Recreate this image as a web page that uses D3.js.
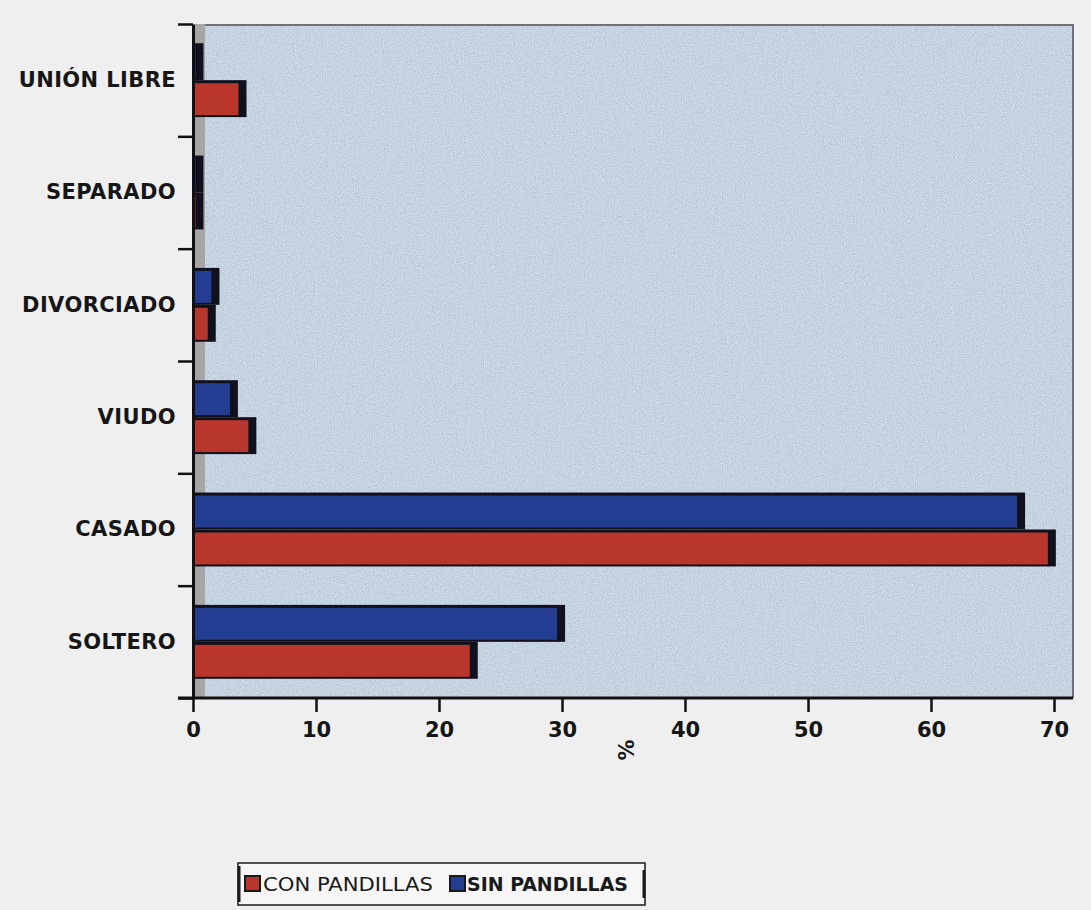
<!DOCTYPE html>
<html>
<head>
<meta charset="utf-8">
<script src="https://cdn.jsdelivr.net/npm/d3@7/dist/d3.min.js"></script>
<style>
  html, body { margin: 0; padding: 0; background: #efefef; }
  svg { display: block; }
</style>
</head>
<body>
<svg id="chart" width="1091" height="910"></svg>
<script>
// ---- data ----
const categories = ["SOLTERO", "CASADO", "VIUDO", "DIVORCIADO", "SEPARADO", "UNIÓN LIBRE"];
const seriesNames = ["CON PANDILLAS", "SIN PANDILLAS"];
const conPandillas = [22.5, 69.5, 4.5, 1.2, 0.2, 3.7];
const sinPandillas = [29.6, 67.0, 3.0, 1.5, 0.2, 0.2];
const xTicks = [0, 10, 20, 30, 40, 50, 60, 70];
const axisTitle = "%";

// ---- layout / style ----
const colors = { "CON PANDILLAS": "#b8362b", "SIN PANDILLAS": "#223d92" };
const dark = "#10111c";
const plot = { left: 193, right: 1073, top: 24, bottom: 698 };

const svg = d3.select("#chart");
const defs = svg.append("defs");
const f = defs.append("filter").attr("id", "grain")
  .attr("x", 0).attr("y", 0).attr("width", "100%").attr("height", "100%");
f.append("feTurbulence").attr("type", "fractalNoise").attr("baseFrequency", 0.9)
  .attr("numOctaves", 3).attr("seed", 7).attr("result", "n");
f.append("feColorMatrix").attr("in", "n").attr("type", "matrix")
  .attr("values", "0.33 0.33 0.33 0 0  0.33 0.33 0.33 0 0  0.33 0.33 0.33 0 0  0 0 0 0 1")
  .attr("result", "g");
f.append("feComposite").attr("in", "SourceGraphic").attr("in2", "g")
  .attr("operator", "arithmetic")
  .attr("k1", 0).attr("k2", 1).attr("k3", 0.7).attr("k4", -0.35);

const x = d3.scaleLinear().domain([0, 70]).range([193, 1054]);
const y = d3.scaleBand().domain(categories.slice().reverse()).range([plot.top, plot.bottom]).padding(0);
const yLin = d3.scaleLinear().domain([0, categories.length]).range([plot.bottom, plot.top]);
const sub = d3.scaleBand().domain(["SIN PANDILLAS", "CON PANDILLAS"])
  .range([0, y.bandwidth()]).paddingInner(0).paddingOuter(0.52);

// plot background
svg.append("rect").attr("x", 205).attr("y", plot.top)
  .attr("width", plot.right - 205).attr("height", plot.bottom - plot.top)
  .attr("fill", "#c6d3e1").attr("filter", "url(#grain)");
// plot border (top / right)
svg.append("path")
  .attr("d", `M205,${plot.top + 1}H${plot.right}V${plot.bottom}`)
  .attr("fill", "none").attr("stroke", "#6e7278").attr("stroke-width", 2);
// side wall
svg.append("rect").attr("x", 194).attr("y", plot.top)
  .attr("width", 11).attr("height", plot.bottom - plot.top)
  .attr("fill", "#a6a6a6");

// bars
const rows = categories.map((c, i) => ({
  cat: c,
  vals: [
    { s: "SIN PANDILLAS", v: sinPandillas[i] },
    { s: "CON PANDILLAS", v: conPandillas[i] }
  ]
}));
const g = svg.append("g");
const grp = g.selectAll("g.cat").data(rows).join("g")
  .attr("transform", d => `translate(0,${y(d.cat)})`);
const bar = grp.selectAll("g.bar").data(d => d.vals).join("g").attr("class", "bar");
bar.append("rect")
  .attr("x", x(0))
  .attr("y", d => sub(d.s))
  .attr("width", d => x(d.v) - x(0) + 8)
  .attr("height", sub.bandwidth())
  .attr("fill", dark);
bar.append("rect")
  .attr("x", x(0) + 2)
  .attr("y", d => sub(d.s) + 3)
  .attr("width", d => Math.max(0, x(d.v) - x(0) - 2))
  .attr("height", sub.bandwidth() - 5)
  .attr("fill", d => colors[d.s]);

// y axis: tick marks at band boundaries + labels
const yTicksG = svg.append("g").attr("transform", `translate(${plot.left},0)`)
  .call(d3.axisLeft(yLin).ticks(categories.length).tickFormat("").tickSize(15).tickSizeOuter(0));
yTicksG.select(".domain").attr("stroke", "#111").attr("stroke-width", 3);
yTicksG.selectAll(".tick line").attr("stroke", "#111").attr("stroke-width", 2.5);

const yLab = svg.append("g").attr("transform", `translate(176,0)`)
  .call(d3.axisLeft(y).tickSize(0).tickPadding(0));
yLab.select(".domain").remove();
yLab.selectAll("text")
  .attr("font-family", "'DejaVu Sans', Verdana, sans-serif")
  .attr("font-weight", "bold").attr("font-size", 21)
  .attr("letter-spacing", "0.4px")
  .attr("fill", "#161616");

// x axis
const xAxisG = svg.append("g").attr("transform", `translate(0,${plot.bottom})`)
  .call(d3.axisBottom(x).tickValues(xTicks).tickFormat(d3.format("d")).tickSize(14).tickSizeOuter(0).tickPadding(10));
xAxisG.select(".domain").remove();
xAxisG.selectAll(".tick line").attr("stroke", "#111").attr("stroke-width", 2.5);
xAxisG.selectAll("text")
  .attr("font-family", "'DejaVu Sans', Verdana, sans-serif")
  .attr("font-weight", "bold").attr("font-size", 21)
  .attr("fill", "#161616");
svg.append("line").attr("x1", 178).attr("x2", plot.right)
  .attr("y1", plot.bottom).attr("y2", plot.bottom)
  .attr("stroke", "#111").attr("stroke-width", 3);

// axis title
svg.append("text")
  .attr("transform", "translate(634,750) rotate(-90)")
  .attr("text-anchor", "middle")
  .attr("font-family", "'DejaVu Sans', Verdana, sans-serif")
  .attr("font-weight", "bold").attr("font-size", 21)
  .attr("fill", "#161616")
  .text(axisTitle);

// legend
const lg = svg.append("g");
lg.append("rect").attr("x", 238).attr("y", 863).attr("width", 407).attr("height", 42)
  .attr("fill", "#f6f6f6").attr("stroke", "#1a1a1a").attr("stroke-width", 1.5);
lg.append("line").attr("x1", 239).attr("x2", 239).attr("y1", 866).attr("y2", 902)
  .attr("stroke", "#1a1a1a").attr("stroke-width", 3);
lg.append("line").attr("x1", 644).attr("x2", 644).attr("y1", 870).attr("y2", 898)
  .attr("stroke", "#1a1a1a").attr("stroke-width", 3);
const legendItems = [
  { s: seriesNames[0], sx: 245, tx: 263, tw: 170, bold: false },
  { s: seriesNames[1], sx: 450, tx: 467, tw: 161, bold: true }
];
const li = lg.selectAll("g.li").data(legendItems).join("g");
li.append("rect").attr("x", d => d.sx).attr("y", 876).attr("width", 15).attr("height", 15)
  .attr("fill", d => colors[d.s]).attr("stroke", "#1a1a1a").attr("stroke-width", 2);
li.append("text").attr("x", d => d.tx).attr("y", 891)
  .attr("font-family", "'DejaVu Sans Condensed', 'DejaVu Sans', sans-serif")
  .attr("font-size", 19)
  .attr("font-weight", d => d.bold ? "bold" : "normal")
  .attr("textLength", d => d.tw).attr("lengthAdjust", "spacingAndGlyphs")
  .attr("fill", "#1a1a1a")
  .text(d => d.s);
</script>
</body>
</html>
